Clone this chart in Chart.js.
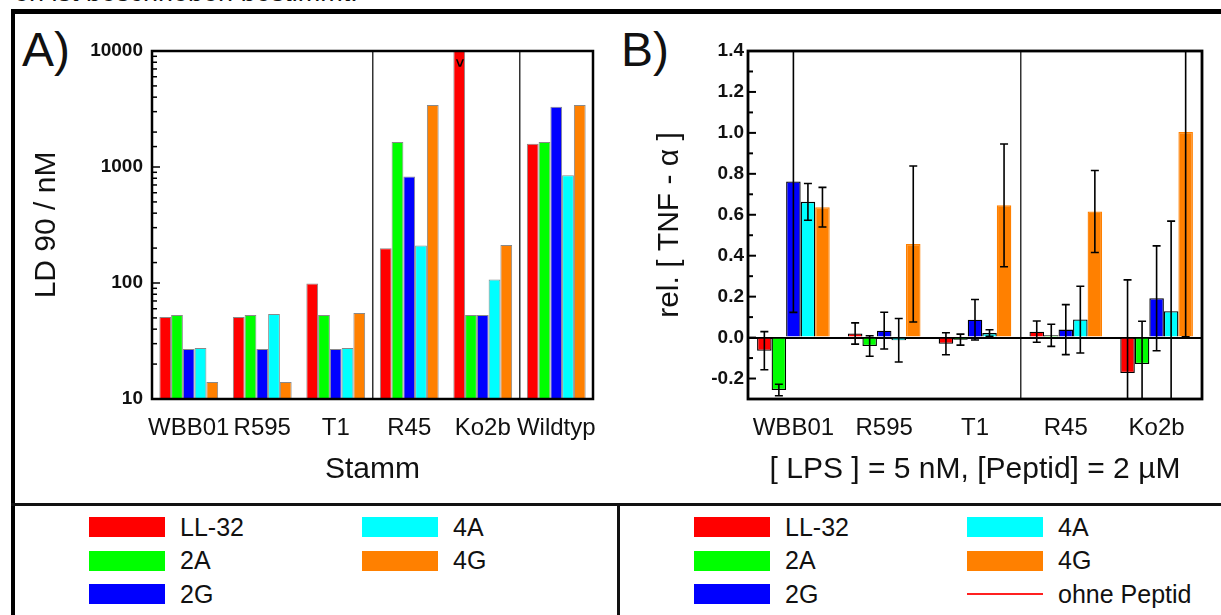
<!DOCTYPE html>
<html>
<head>
<meta charset="utf-8">
<script src="https://cdn.jsdelivr.net/npm/chart.js@4.4.1/dist/chart.umd.min.js"></script>
<style>
  html, body { margin: 0; padding: 0; background: #fff; }
  body { width: 1221px; height: 615px; position: relative; overflow: hidden;
         font-family: "Liberation Sans", Arial, sans-serif; color: #111; }
  .bar-h { position: absolute; background: #000; }
  .cut { position: absolute; left: 14px; top: -21px; font-size: 27px; white-space: nowrap; line-height: 1; }
  .letter { position: absolute; top: 26px; font-size: 48px; line-height: 1; }
  .wrap { position: absolute; top: 0; height: 500px; }
  .item { position: absolute; height: 34px; display: flex; align-items: center;
          font-size: 25px; white-space: nowrap; }
  .sw { width: 76px; height: 20px; margin-right: 15px; }
  .ln { width: 76px; height: 2px; margin-right: 15px; }
</style>
</head>
<body>
<div class="cut">en ist beschrieben bestimmt.</div>
<div class="bar-h" style="left:11px; top:9px; width:1210px; height:5px;"></div>
<div class="bar-h" style="left:11px; top:9px; width:4px; height:606px;"></div>
<div class="bar-h" style="left:11px; top:503px; width:1210px; height:3px; background:#111;"></div>
<div class="bar-h" style="left:617px; top:503px; width:3px; height:112px; background:#111;"></div>

<div class="letter" style="left:22px;">A)</div>
<div class="letter" style="left:621px;">B)</div>

<div class="wrap" style="left:0; width:620px;"><canvas id="chartA" width="620" height="500"></canvas></div>
<div class="wrap" style="left:620px; width:601px;"><canvas id="chartB" width="601" height="500"></canvas></div>

<div id="legends"></div>

<script>
// --- data ---
const peptides = ['LL-32', '2A', '2G', '4A', '4G'];
const colors = ['#ff0000', '#00ff00', '#0000ff', '#00ffff', '#ff8000'];

// A) LD 90 / nM (log scale)
const strainsA = ['WBB01', 'R595', 'T1', 'R45', 'Ko2b', 'Wildtyp'];
const ld90_LL32 = [51, 51, 99, 199, 10000, 1590];
const ld90_2A = [53, 53, 53, 1640, 53, 1640];
const ld90_2G = [27, 27, 27, 830, 53, 3310];
const ld90_4A = [27.5, 54, 27.5, 210, 107, 850];
const ld90_4G = [14, 14, 55, 3420, 213, 3420];
const ld90TickLabels = [10, 100, 1000, 10000];

// B) rel. TNF-alpha, with +/- error
const strainsB = ['WBB01', 'R595', 'T1', 'R45', 'Ko2b'];
const tnf_LL32 = [-0.064, 0.020, -0.030, 0.029, -0.173];
const tnf_2A = [-0.256, -0.041, -0.010, 0.011, -0.129];
const tnf_2G = [0.763, 0.034, 0.087, 0.039, 0.192];
const tnf_4A = [0.663, -0.013, 0.022, 0.088, 0.129];
const tnf_4G = [0.637, 0.457, 0.646, 0.616, 1.004];
const err_LL32 = [0.093, 0.052, 0.054, 0.052, 0.455];
const err_2A = [0.028, 0.050, 0.027, 0.054, 0.209];
const err_2G = [0.640, 0.090, 0.099, 0.122, 0.256];
const err_4A = [0.090, 0.106, 0.016, 0.163, 0.440];
const err_4G = [0.097, 0.381, 0.300, 0.200, 1.000];

const seriesA = [ld90_LL32, ld90_2A, ld90_2G, ld90_4A, ld90_4G];
const seriesB = [tnf_LL32, tnf_2A, tnf_2G, tnf_4A, tnf_4G];
const errorsB = [err_LL32, err_2A, err_2G, err_4A, err_4G];

const FONT = '"Liberation Sans", Arial, sans-serif';

// frame around the plot + inward tick marks on the y axis
const axisFrame = {
  id: 'axisFrame',
  afterDraw(chart, args, opts) {
    const { ctx, chartArea: a } = chart;
    const y = chart.scales.y;
    ctx.save();
    ctx.strokeStyle = '#000';
    ctx.lineWidth = opts.tickWidth;
    y.ticks.forEach(t => {
      const py = y.getPixelForValue(t.value);
      const len = t.label !== '' ? opts.major : opts.minor;
      ctx.beginPath();
      ctx.moveTo(a.left, py);
      ctx.lineTo(a.left + len, py);
      ctx.stroke();
    });
    ctx.lineWidth = opts.width;
    ctx.strokeRect(a.left, a.top, a.right - a.left, a.bottom - a.top);
    ctx.restore();
  }
};

// error bars from the err arrays
const errorBars = {
  id: 'errorBars',
  afterDatasetsDraw(chart, args, opts) {
    if (!opts.errors) return;
    const { ctx, chartArea: a } = chart;
    const y = chart.scales.y;
    ctx.save();
    ctx.beginPath();
    ctx.rect(a.left, a.top - 1, a.right - a.left, a.bottom - a.top + 2);
    ctx.clip();
    ctx.strokeStyle = '#000';
    ctx.lineWidth = 1.6;
    chart.data.datasets.forEach((ds, i) => {
      const meta = chart.getDatasetMeta(i);
      meta.data.forEach((bar, j) => {
        const v = ds.data[j], e = opts.errors[i][j];
        const yHi = y.getPixelForValue(v + e), yLo = y.getPixelForValue(v - e);
        const x = bar.x;
        ctx.beginPath();
        ctx.moveTo(x, yHi); ctx.lineTo(x, yLo);
        ctx.moveTo(x - 4, yHi); ctx.lineTo(x + 4, yHi);
        ctx.moveTo(x - 4, yLo); ctx.lineTo(x + 4, yLo);
        ctx.stroke();
      });
    });
    ctx.restore();
  }
};

// ">" mark on bars that run off the top of the axis
const overRange = {
  id: 'overRange',
  afterDatasetsDraw(chart) {
    const { ctx } = chart;
    const y = chart.scales.y;
    ctx.save();
    ctx.fillStyle = '#000';
    ctx.font = 'bold 15px ' + FONT;
    ctx.textAlign = 'center';
    ctx.textBaseline = 'middle';
    chart.data.datasets.forEach((ds, i) => {
      chart.getDatasetMeta(i).data.forEach((bar, j) => {
        if (ds.data[j] >= y.max) {
          ctx.save();
          ctx.translate(bar.x, y.top + 12);
          ctx.rotate(Math.PI / 2);
          ctx.fillText('>', 0, 0);
          ctx.restore();
        }
      });
    });
    ctx.restore();
  }
};

function baseX(labels, dividers) {
  return {
    type: 'category',
    labels: labels,
    offset: true,
    border: { display: false },
    grid: {
      offset: true,
      drawTicks: false,
      lineWidth: 1.5,
      color: c => dividers.includes(c.index) ? '#333' : 'rgba(0,0,0,0)'
    },
    ticks: {
      color: '#111', padding: 15, maxRotation: 0, autoSkip: false,
      font: { family: FONT, size: 24 }
    },
    title: {
      display: true, color: '#111',
      font: { family: FONT, size: 30 },
      padding: { top: 0, bottom: 12 }
    },
    afterFit: s => { s.height = 101; }
  };
}

// A) chart
const xA = baseX(strainsA, [3, 5]);
xA.title.text = 'Stamm';
new Chart(document.getElementById('chartA'), {
  type: 'bar',
  data: {
    labels: strainsA,
    datasets: seriesA.map((d, i) => ({
      label: peptides[i], data: d,
      backgroundColor: colors[i],
      borderColor: 'rgba(40,40,40,0.55)', borderWidth: 1,
      categoryPercentage: 0.8, barPercentage: 1
    }))
  },
  options: {
    responsive: false, animation: false, devicePixelRatio: 1,
    layout: { padding: { top: 51, right: 27, left: 0, bottom: 0 } },
    plugins: {
      legend: { display: false }, tooltip: { enabled: false },
      axisFrame: { width: 2.5, tickWidth: 1.5, major: 8, minor: 5 }
    },
    scales: {
      x: xA,
      y: {
        type: 'logarithmic', min: 10, max: 10000,
        border: { display: false },
        grid: { display: false },
        ticks: {
          color: '#111', padding: 1, autoSkip: false,
          font: { family: FONT, size: 19, weight: 'bold' },
          callback: v => ld90TickLabels.includes(v) ? String(v) : ''
        },
        title: {
          display: true, text: 'LD 90 / nM', color: '#111',
          font: { family: FONT, size: 30 }, padding: { top: 29, bottom: 0 }
        },
        afterFit: s => { s.width = 152; }
      }
    }
  },
  plugins: [axisFrame, overRange]
});

// B) chart
const xB = baseX(strainsB, [3]);
xB.title.text = '[ LPS ] = 5 nM, [Peptid] = 2 µM';
new Chart(document.getElementById('chartB'), {
  type: 'bar',
  data: {
    labels: strainsB,
    datasets: seriesB.map((d, i) => ({
      label: peptides[i], data: d,
      backgroundColor: colors[i],
      borderColor: i === 4 ? colors[i] : '#000', borderWidth: 1.3,
      categoryPercentage: 0.8, barPercentage: 1
    }))
  },
  options: {
    responsive: false, animation: false, devicePixelRatio: 1,
    layout: { padding: { top: 51, right: 19, left: 0, bottom: 0 } },
    plugins: {
      legend: { display: false }, tooltip: { enabled: false },
      axisFrame: { width: 2.8, tickWidth: 2, major: 8, minor: 5 },
      errorBars: { errors: errorsB }
    },
    scales: {
      x: xB,
      y: {
        type: 'linear', min: -0.3, max: 1.4,
        border: { display: false },
        grid: {
          drawTicks: false, lineWidth: 2,
          color: c => Math.abs(c.tick.value) < 1e-9 ? '#000' : 'rgba(0,0,0,0)'
        },
        ticks: {
          stepSize: 0.1, color: '#111', padding: 4, autoSkip: false,
          font: { family: FONT, size: 19, weight: 'bold' },
          callback: v => {
            const k = Math.round(v * 10);
            return k % 2 === 0 ? (k / 10).toFixed(1) : '';
          }
        },
        title: {
          display: true, text: 'rel. [ TNF - α ]', color: '#111',
          font: { family: FONT, size: 30 }, padding: { top: 32, bottom: 0 }
        },
        afterFit: s => { s.width = 128; }
      }
    }
  },
  plugins: [axisFrame, errorBars]
});

// legends under both panels
const legendRows = [510, 543.5, 577];
function addItem(x, row, label, color, isLine) {
  const el = document.createElement('div');
  el.className = 'item';
  el.style.left = x + 'px';
  el.style.top = legendRows[row] + 'px';
  const sw = document.createElement('div');
  sw.className = isLine ? 'ln' : 'sw';
  sw.style.background = color;
  el.appendChild(sw);
  el.appendChild(document.createTextNode(label));
  document.getElementById('legends').appendChild(el);
}
[[89, 362], [694, 967]].forEach(cols => {
  peptides.forEach((p, i) => {
    const col = i < 3 ? 0 : 1;
    addItem(cols[col], i < 3 ? i : i - 3, p, colors[i], false);
  });
});
addItem(967, 2, 'ohne Peptid', '#ff2020', true);
</script>
</body>
</html>
